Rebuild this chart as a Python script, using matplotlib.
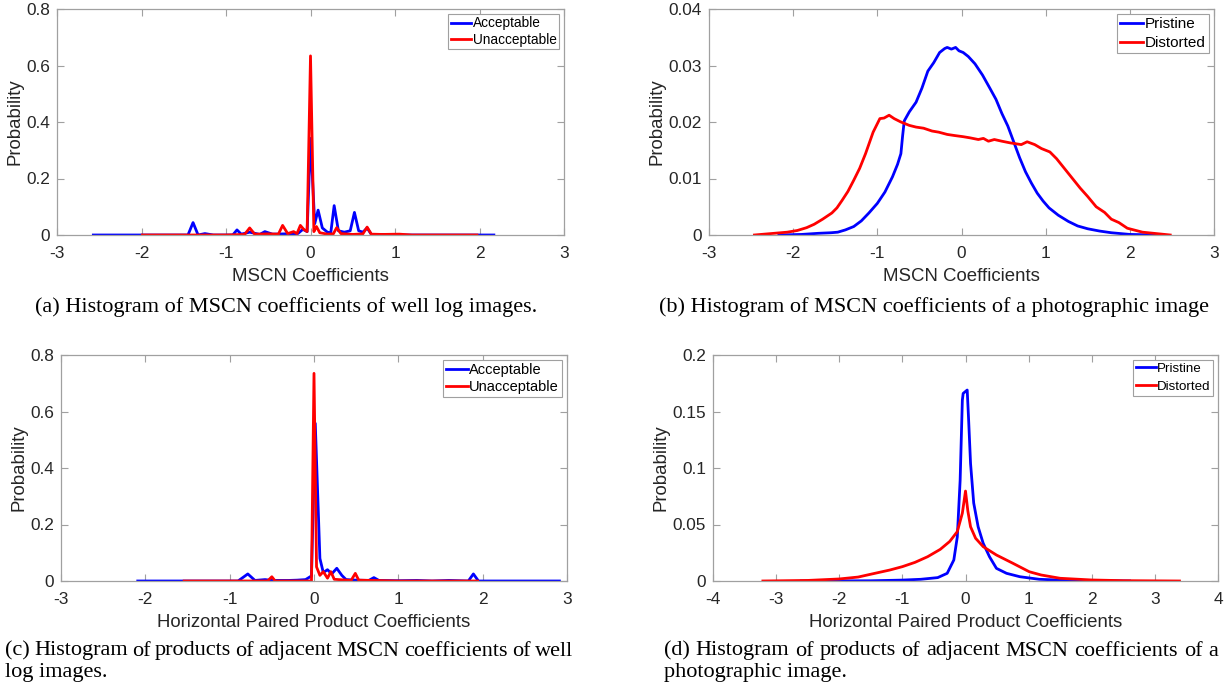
import matplotlib
matplotlib.use("Agg")
import matplotlib.pyplot as plt
from matplotlib.ticker import FuncFormatter

plt.rcParams['font.family'] = ['Liberation Sans', 'DejaVu Sans']
plt.rcParams['axes.unicode_minus'] = False

# ---------------- data ----------------
# (a) MSCN coefficients, well log images
a_acc_x = [-2.57, -1.45, -1.39, -1.33, -1.25, -1.15, -0.92, -0.87, -0.82, -0.72, -0.6, -0.54,
           -0.45, -0.3, -0.15, -0.09, -0.04, 0.0, 0.05, 0.09, 0.14, 0.2, 0.24, 0.28, 0.33, 0.4,
           0.47, 0.52, 0.57, 0.62, 0.67, 0.72, 0.9, 1.05, 2.17]
a_acc_y = [0, 0, 0.044, 0, 0.005, 0, 0, 0.018, 0.003, 0.01, 0.002, 0.012,
           0.003, 0.004, 0.005, 0.02, 0.012, 0.342, 0.04, 0.088, 0.025, 0.01, 0.008, 0.104, 0.015, 0.01,
           0.015, 0.08, 0.015, 0.01, 0.025, 0.002, 0.002, 0, 0]
a_una_x = [-1.99, -1.0, -0.78, -0.72, -0.66, -0.5, -0.38, -0.33, -0.27, -0.2, -0.16, -0.12,
           -0.08, -0.04, 0.0, 0.04, 0.07, 0.11, 0.2, 0.27, 0.31, 0.36, 0.5, 0.62, 0.67, 0.72,
           0.85, 1.05, 1.2, 1.97]
a_una_y = [0, 0, 0.002, 0.025, 0.003, 0.004, 0.003, 0.034, 0.005, 0.012, 0.005, 0.034,
           0.02, 0.012, 0.634, 0.012, 0.03, 0.008, 0.003, 0.004, 0.026, 0.005, 0.002, 0.004, 0.028, 0.003,
           0.002, 0.003, 0, 0]

# (b) MSCN coefficients, photographic image
b_pri_x = [-2.17, -1.9, -1.7, -1.55, -1.47, -1.38, -1.28, -1.19, -1.10, -1.0, -0.91, -0.82,
           -0.76, -0.72, -0.70, -0.68, -0.62, -0.54, -0.47, -0.40, -0.33, -0.26, -0.20,
           -0.17, -0.12, -0.07, -0.03, 0.02, 0.08, 0.16, 0.25, 0.34, 0.41, 0.48, 0.55, 0.62,
           0.69, 0.76, 0.83, 0.90, 0.97, 1.04, 1.15, 1.27, 1.38, 1.50, 1.64, 1.78, 2.0, 2.34]
b_pri_y = [0, 0.0001, 0.0003, 0.0004, 0.0005, 0.0009, 0.0015, 0.0025, 0.0039, 0.0056, 0.0076, 0.0103,
           0.0125, 0.0144, 0.0175, 0.0202, 0.0218, 0.0235, 0.026, 0.029, 0.0305, 0.0323, 0.0330,
           0.0332, 0.0329, 0.0332, 0.0326, 0.0323, 0.0316, 0.0303, 0.0283, 0.0259, 0.0240, 0.0215, 0.0193, 0.0165,
           0.0137, 0.0112, 0.0092, 0.0074, 0.0060, 0.0048, 0.0035, 0.0024, 0.0016, 0.0011, 0.0007, 0.0004, 0.0001, 0]
b_dis_x = [-2.46, -2.07, -1.95, -1.84, -1.75, -1.65, -1.54, -1.48, -1.42, -1.35, -1.28, -1.21,
           -1.14, -1.05, -0.97, -0.92, -0.86, -0.80, -0.72, -0.62, -0.54, -0.45, -0.35, -0.27,
           -0.17, -0.08, 0.02, 0.10, 0.20, 0.26, 0.32, 0.39, 0.48, 0.58, 0.71, 0.78, 0.87, 0.95,
           1.05, 1.13, 1.20, 1.27, 1.34, 1.41, 1.50, 1.60, 1.70, 1.78, 1.87, 1.97, 2.15, 2.48]
b_dis_y = [0, 0.0005, 0.0008, 0.0013, 0.0019, 0.0028, 0.0039, 0.0048, 0.0061, 0.0077, 0.0097, 0.0118,
           0.0144, 0.0182, 0.0206, 0.0207, 0.0212, 0.0206, 0.0200, 0.0194, 0.0191, 0.0189, 0.0184, 0.0182,
           0.0178, 0.0176, 0.0174, 0.0172, 0.0169, 0.0171, 0.0166, 0.0169, 0.0166, 0.0163, 0.0160, 0.0165, 0.0160, 0.0153,
           0.0147, 0.0135, 0.0122, 0.0109, 0.0096, 0.0083, 0.0068, 0.0050, 0.0040, 0.0028, 0.0022, 0.0012, 0.0005, 0]

# (c) horizontal paired products, well log images
c_acc_x = [-2.09, -0.9, -0.785, -0.7, -0.58, -0.5, -0.3, -0.2, -0.1, -0.03, 0.015, 0.07, 0.11,
           0.16, 0.21, 0.27, 0.33, 0.38, 0.5, 0.65, 0.71, 0.77, 1.0, 1.22, 1.4, 1.6, 1.83, 1.89,
           1.95, 2.91]
c_acc_y = [0, 0, 0.025, 0.002, 0.005, 0.002, 0.002, 0.003, 0.005, 0.018, 0.558, 0.08, 0.03,
           0.04, 0.025, 0.045, 0.02, 0.005, 0.003, 0.002, 0.012, 0.002, 0.001, 0.002, 0, 0.002, 0, 0.025,
           0, 0]
c_una_x = [-1.54, -0.55, -0.5, -0.46, -0.03, 0.0, 0.03, 0.07, 0.11, 0.16, 0.2, 0.24, 0.44, 0.49,
           0.53, 0.7, 1.0, 1.94]
c_una_y = [0, 0, 0.015, 0, 0, 0.735, 0.05, 0.02, 0.033, 0.01, 0.033, 0.006, 0.002, 0.027,
           0.003, 0.002, 0, 0]

# (d) horizontal paired products, photographic image
d_pri_x = [-2.6, -1.5, -1.0, -0.71, -0.44, -0.29, -0.185, -0.13, -0.085, -0.05, -0.037, 0.027,
           0.05, 0.08, 0.13, 0.2, 0.28, 0.38, 0.49, 0.65, 0.86, 1.17, 1.5, 1.95, 2.6]
d_pri_y = [0, 0.0002, 0.0008, 0.0015, 0.003, 0.0068, 0.0186, 0.039, 0.089, 0.16, 0.166, 0.169,
           0.142, 0.104, 0.069, 0.048, 0.0334, 0.0215, 0.0112, 0.0068, 0.0038, 0.0015, 0.0008, 0.0003, 0]
d_dis_x = [-3.21, -2.5, -2.0, -1.7, -1.5, -1.2, -1.0, -0.8, -0.6, -0.4, -0.25, -0.13, -0.05,
           0.0, 0.037, 0.08, 0.16, 0.28, 0.49, 0.75, 1.01, 1.2, 1.5, 2.0, 2.5, 3.39]
d_dis_y = [0, 0.0005, 0.0018, 0.0035, 0.006, 0.0097, 0.0127, 0.0165, 0.0215, 0.028, 0.035, 0.0437, 0.06,
           0.0796, 0.062, 0.048, 0.0378, 0.0304, 0.023, 0.0157, 0.0082, 0.0053, 0.0024, 0.0009, 0.0003, 0]

caption_a = "(a) Histogram of MSCN coefficients of well log images."
caption_b = "(b) Histogram of MSCN coefficients of a photographic image"
caption_c = ["(c) Histogram of products of adjacent MSCN coefficients of well", "log images."]
caption_d = ["(d) Histogram of products of adjacent MSCN coefficients of a", "photographic image."]

# ---------------- figure ----------------
W, H = 1231, 691
fig = plt.figure(figsize=(W / 100, H / 100), dpi=100)

def px_axes(l, r, t, b):
    return fig.add_axes([l / W, 1 - b / H, (r - l) / W, (b - t) / H])

fmt = FuncFormatter(lambda v, p: ('%g' % round(v, 6)))
GRAY = '#a0a0a0'
TXT = '#262626'

def style(ax, xlim, xticks, ylim, yticks, xlabel, legend_labels, legfs, lspace):
    ax.set_xlim(*xlim)
    ax.set_ylim(*ylim)
    ax.set_xticks(xticks)
    ax.set_yticks(yticks)
    ax.xaxis.set_major_formatter(fmt)
    ax.yaxis.set_major_formatter(fmt)
    for s in ax.spines.values():
        s.set_color(GRAY)
        s.set_linewidth(0.9)
    ax.tick_params(direction='in', top=True, right=True, length=5, width=0.8,
                   color=GRAY, labelcolor=TXT, labelsize=12.4)
    ax.tick_params(axis='x', pad=8)
    ax.tick_params(axis='y', pad=5)
    ax.set_xlabel(xlabel, fontsize=13.4, color=TXT, labelpad=5)
    ax.set_ylabel("Probability", fontsize=13.4, color=TXT, labelpad=2)
    leg = ax.legend(legend_labels, loc='upper right', fontsize=legfs, frameon=True,
                    fancybox=False, edgecolor=GRAY, framealpha=1, borderpad=0.2,
                    handlelength=1.5, handletextpad=0.1, labelspacing=lspace,
                    borderaxespad=0.35)
    leg.get_frame().set_linewidth(0.8)
    for t in leg.get_texts():
        t.set_color('black')

LW = 2.0

axa = px_axes(57, 564, 9, 235)
axa.plot(a_acc_x, a_acc_y, color='#0000ff', lw=LW)
axa.plot(a_una_x, a_una_y, color='#ff0000', lw=LW)
style(axa, (-3, 3), [-3, -2, -1, 0, 1, 2, 3], (0, 0.8), [0, 0.2, 0.4, 0.6, 0.8],
      "MSCN Coefficients", ["Acceptable", "Unacceptable"], 9.8, 0.15)

axb = px_axes(709, 1214, 9, 235)
axb.plot(b_pri_x, b_pri_y, color='#0000ff', lw=LW)
axb.plot(b_dis_x, b_dis_y, color='#ff0000', lw=LW)
style(axb, (-3, 3), [-3, -2, -1, 0, 1, 2, 3], (0, 0.04), [0, 0.01, 0.02, 0.03, 0.04],
      "MSCN Coefficients", ["Pristine", "Distorted"], 11, 0.3)

axc = px_axes(61, 567, 355, 581)
axc.plot(c_acc_x, c_acc_y, color='#0000ff', lw=LW)
axc.plot(c_una_x, c_una_y, color='#ff0000', lw=LW)
style(axc, (-3, 3), [-3, -2, -1, 0, 1, 2, 3], (0, 0.8), [0, 0.2, 0.4, 0.6, 0.8],
      "Horizontal Paired Product Coefficients", ["Acceptable", "Unacceptable"], 10.5, 0.2)

axd = px_axes(713, 1218, 355, 581)
axd.plot(d_pri_x, d_pri_y, color='#0000ff', lw=LW)
axd.plot(d_dis_x, d_dis_y, color='#ff0000', lw=LW)
style(axd, (-4, 4), [-4, -3, -2, -1, 0, 1, 2, 3, 4], (0, 0.2), [0, 0.05, 0.1, 0.15, 0.2],
      "Horizontal Paired Product Coefficients", ["Pristine", "Distorted"], 9.6, 0.45)

capfont = dict(family=['Liberation Serif', 'DejaVu Serif'], fontsize=16.0, color='black')
renderer = fig.canvas.get_renderer()

def justified(line, x0, x1, yc):
    words = line.split(' ')
    texts = [fig.text(0, 1 - yc / H, w, ha='left', va='center', **capfont) for w in words]
    widths = [t.get_window_extent(renderer).width for t in texts]
    gap = (x1 - x0 - sum(widths)) / (len(words) - 1)
    x = x0
    for t, w in zip(texts, widths):
        t.set_x(x / W)
        x += w + gap

fig.text(286 / W, 1 - 307 / H, caption_a, ha='center', va='center', **capfont)
fig.text(934 / W, 1 - 307 / H, caption_b, ha='center', va='center', **capfont)
justified(caption_c[0], 5, 573, 651)
fig.text(5 / W, 1 - 672 / H, caption_c[1], ha='left', va='center', **capfont)
justified(caption_d[0], 664, 1218, 651)
fig.text(664 / W, 1 - 672 / H, caption_d[1], ha='left', va='center', **capfont)

fig.savefig("out.png", dpi=100)
